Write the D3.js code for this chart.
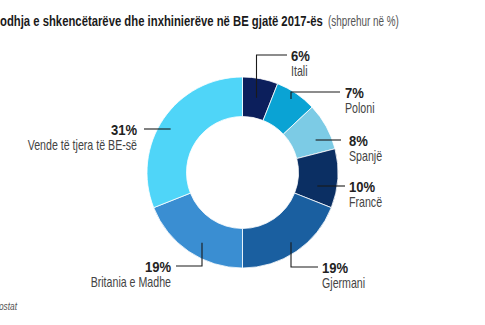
<!DOCTYPE html>
<html>
<head>
<meta charset="utf-8">
<script src="https://cdn.jsdelivr.net/npm/d3@7"></script>
<style>
  html, body { margin: 0; padding: 0; background: #fff; }
  svg { display: block; }
  text { font-family: "Liberation Sans", Arial, sans-serif; }
</style>
</head>
<body>
<svg id="chart" width="485" height="325"></svg>
<script>
// Share of EU scientists and engineers by country, 2017 (%)
const countries = ["Itali", "Poloni", "Spanjë", "Francë", "Gjermani", "Britania e Madhe", "Vende të tjera të BE-së"];
const shares = [6, 7, 8, 10, 19, 19, 31];
const colors = ["#0c1f5c", "#0aa3d4", "#7ccbe5", "#0b2f63", "#1a5fa0", "#3a8ed2", "#4fd5f8"];

const titleLead = "Nd";
const titleBold = "odhja e shkencëtarëve dhe inxhinierëve në BE gjatë 2017-ës";
const titleLight = "(shprehur në %)";
const sourceText = "Burimi: Eurostat";

const data = countries.map((c, i) => ({ name: c, value: shares[i], color: colors[i] }));

const svg = d3.select("#chart");
const cx = 242.5, cy = 172.5, R = 95.5, r0 = 56;

// Horizontally condensed text helper (narrow grotesque look)
function condText(parent, x, y, str, opts) {
  const t = parent.append("text")
    .attr("transform", `translate(${x},${y}) scale(${opts.sx},1)`)
    .attr("font-size", opts.size)
    .attr("font-weight", opts.weight || "normal")
    .attr("font-style", opts.style || "normal")
    .attr("fill", opts.fill || "#222")
    .attr("text-anchor", opts.anchor || "start")
    .text(str);
  return t;
}

// Title: bold headline (its opening letters run past the left edge) + light note
const probe = svg.append("text").attr("font-size", 14).attr("font-weight", "bold").text(titleBold);
const boldW = probe.node().getComputedTextLength();
probe.text(titleLead);
const leadW = probe.node().getComputedTextLength();
probe.remove();
const titleSx = 323 / boldW;
condText(svg, -leadW * titleSx, 26, titleLead + titleBold, { size: 14, weight: "bold", sx: titleSx, fill: "#1a1a1a" });

const probe2 = svg.append("text").attr("font-size", 14).text(titleLight);
const lightW = probe2.node().getComputedTextLength();
probe2.remove();
condText(svg, 328, 26, titleLight, { size: 14, sx: 71 / lightW, fill: "#555" });

// Source line
condText(svg, 17, 310, sourceText, { size: 11, style: "italic", sx: 0.76, fill: "#555", anchor: "end" });

const pie = d3.pie().value(d => d.value).sort(null);
const arc = d3.arc().innerRadius(r0).outerRadius(R);
const arcs = pie(data);

const g = svg.append("g").attr("transform", `translate(${cx},${cy})`);
g.selectAll("path").data(arcs).join("path")
  .attr("d", arc)
  .attr("fill", d => d.data.color)
  .attr("stroke", "#ffffff")
  .attr("stroke-width", 0.8);

// Label placement: leader elbow + text block position (relative to chart centre)
// kind "v": vertical from the ring then horizontal; "h": horizontal only
const labelLayout = [
  { kind: "v", lx: 14,   rr: 76, ly: -117.5, ex: 44.5,  tx: 48.5,  anchor: "start" },
  { kind: "v", lx: 48.5, rr: 88, ly: -80.5,  ex: 97.5,  tx: 102.5, anchor: "start" },
  { kind: "h", ly: -32.5, rr: 80, ex: 98.5,  tx: 106.5, anchor: "start" },
  { kind: "h", ly: 13.5,  rr: 76, ex: 102.5, tx: 106.5, anchor: "start" },
  { kind: "v", lx: 48.5, rr: 85, ly: 94.5,   ex: 75.5,  tx: 79.5,  anchor: "start" },
  { kind: "v", lx: -40.5, rr: 81, ly: 93.5,  ex: -66.5, tx: -71.5, anchor: "end" },
  { kind: "h", ly: -43.5, rr: 84, ex: -98.5, tx: -105.5, anchor: "end" }
];

const lg = svg.append("g").attr("transform", `translate(${cx},${cy})`);
arcs.forEach((a, i) => {
  const L = labelLayout[i];
  const mid = (a.startAngle + a.endAngle) / 2;
  let pts;
  if (L.kind === "v") {
    const sy = Math.sqrt(L.rr * L.rr - L.lx * L.lx) * (Math.cos(mid) > 0 ? -1 : 1);
    pts = [[L.lx, sy], [L.lx, L.ly], [L.ex, L.ly]];
  } else {
    const sx = Math.sqrt(L.rr * L.rr - L.ly * L.ly) * (Math.sin(mid) > 0 ? 1 : -1);
    pts = [[sx, L.ly], [L.ex, L.ly]];
  }
  lg.append("path")
    .attr("d", d3.line()(pts))
    .attr("fill", "none")
    .attr("stroke", "#1a1a1a")
    .attr("stroke-width", 1.1);

  condText(lg, L.tx, L.ly + 5.5, a.data.value + "%",
    { size: 15, weight: "bold", sx: 0.87, fill: "#222", anchor: L.anchor });
  condText(lg, L.tx, L.ly + 21, a.data.name,
    { size: 14, sx: 0.76, fill: "#444", anchor: L.anchor });
});
</script>
</body>
</html>
